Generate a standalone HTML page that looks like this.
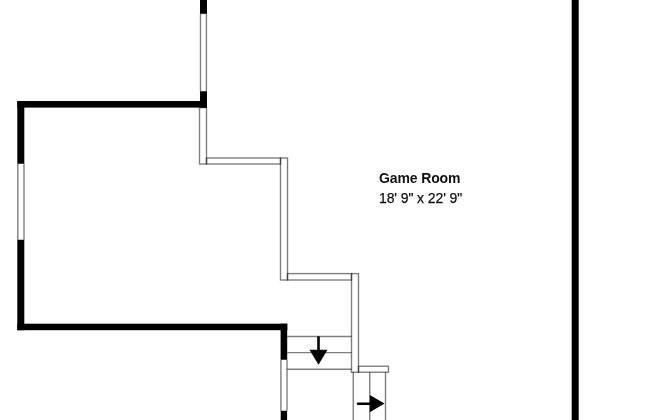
<!DOCTYPE html>
<html><head><meta charset="utf-8">
<style>
html,body{margin:0;padding:0;background:#fff;width:650px;height:420px;overflow:hidden;}
svg{position:absolute;left:0;top:0;}
.t{position:absolute;will-change:transform;font-family:"Liberation Sans",sans-serif;color:#111;white-space:nowrap;line-height:1;}
</style></head><body>
<svg width="650" height="420" viewBox="0 0 650 420">
<g fill="#000">
  <rect x="200" y="0" width="7" height="13.8"/>
  <rect x="200" y="91.25" width="7" height="16.35"/>
  <rect x="17.3" y="101" width="189.7" height="6.6"/>
  <rect x="17.3" y="101" width="7" height="62.75"/>
  <rect x="17.3" y="239.75" width="7" height="90.45"/>
  <rect x="17.3" y="323.7" width="270" height="6.5"/>
  <rect x="280.6" y="323.7" width="6.6" height="36.05"/>
  <rect x="280.7" y="410.75" width="6.4" height="9.25"/>
  <rect x="571.7" y="0" width="7" height="420"/>
</g>
<g fill="none" stroke="#000" stroke-opacity="0.5" stroke-width="1.4">
  <line x1="200.5" y1="13.8" x2="200.5" y2="91.25"/>
  <line x1="206.4" y1="13.8" x2="206.4" y2="91.25"/>
  <line x1="17.8" y1="163.75" x2="17.8" y2="239.75"/>
  <line x1="24" y1="163.75" x2="24" y2="239.75"/>
  <line x1="280.9" y1="359.75" x2="280.9" y2="410.75"/>
  <line x1="287" y1="359.75" x2="287" y2="410.75"/>
  <rect x="199.5" y="107.6" width="7" height="56.4"/>
  <rect x="206.5" y="158" width="74" height="6"/>
  <rect x="280.5" y="158" width="7" height="122"/>
  <rect x="287.5" y="273.6" width="64" height="6.4"/>
  <rect x="351.5" y="273.6" width="7" height="98.65"/>
  <rect x="358.5" y="366.25" width="30" height="6"/>
  <line x1="287.2" y1="336.5" x2="351.5" y2="336.5"/>
  <line x1="287.2" y1="352.6" x2="351.5" y2="352.6"/>
  <line x1="287.2" y1="369.25" x2="351.5" y2="369.25"/>
  <line x1="353.25" y1="372.25" x2="353.25" y2="420"/>
  <line x1="369.75" y1="372.25" x2="369.75" y2="420"/>
  <line x1="385.5" y1="372.25" x2="385.5" y2="420"/>
</g>
<g fill="#000" stroke="none">
  <rect x="317.2" y="336.3" width="2.6" height="14"/>
  <polygon points="309.5,349.75 327.5,349.75 318.5,364.8"/>
  <line x1="358" y1="403.8" x2="371" y2="403.8" stroke="#000" stroke-width="2.5" stroke-linecap="round"/>
  <polygon points="369.8,395 369.8,412.3 384.5,403.6"/>
</g>
</svg>
<div class="t" style="left:379.3px;top:171px;font-size:14px;font-weight:bold;letter-spacing:-0.12px;">Game Room</div>
<div class="t" style="left:379.3px;top:190.5px;font-size:14px;letter-spacing:-0.1px;-webkit-text-stroke:0.25px #111;">18' 9" x 22' 9"</div>
</body></html>
